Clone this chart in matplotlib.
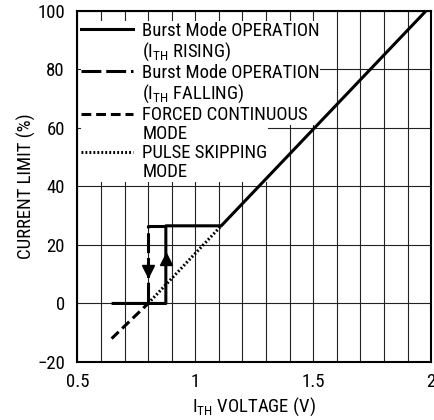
import matplotlib
matplotlib.use("Agg")
import matplotlib.pyplot as plt
from matplotlib.lines import Line2D
import numpy as np

plt.rcParams['font.family'] = ['Roboto Condensed', 'Liberation Sans', 'DejaVu Sans']
plt.rcParams['mathtext.fontset'] = 'custom'
plt.rcParams['mathtext.rm'] = 'Roboto Condensed'
plt.rcParams['mathtext.it'] = 'Roboto Condensed'
plt.rcParams['axes.unicode_minus'] = True

# Burst Mode, ITH rising
rise_v = [0.645, 0.875, 0.875, 1.11, 1.98]
rise_pct = [0, 0, 26.5, 26.5, 100]
# Burst Mode, ITH falling
fall_v = [0.875, 0.8, 0.8]
fall_pct = [26.5, 26.5, 0]
# forced continuous
fc_v = [0.645, 0.8]
fc_pct = [-12, 0]
# pulse skipping
ps_v = [0.8, 1.11]
ps_pct = [0, 26.5]
# hysteresis arrows
arrow_down = (0.8, 11.0)
arrow_up = (0.875, 15.3)

labels = ["Burst Mode OPERATION", "(I$_{\\mathrm{TH}}$ RISING)",
          "Burst Mode OPERATION", "(I$_{\\mathrm{TH}}$ FALLING)",
          "FORCED CONTINUOUS", "MODE",
          "PULSE SKIPPING", "MODE"]

fs = 13.5
fig = plt.figure(figsize=(4.35, 4.2), dpi=100)
ax = fig.add_axes([0.178, 0.138, 0.813, 0.837])

lw = 2.2
ax.plot(rise_v, rise_pct, color='black', lw=lw, solid_capstyle='butt', zorder=3)
ax.plot(fall_v, fall_pct, color='black', lw=lw, dashes=(6.5, 1.6), zorder=3)
ax.plot(fc_v, fc_pct, color='black', lw=lw, dashes=(3.2, 1.6), zorder=3)
ax.plot(ps_v, ps_pct, color='black', lw=2.2, dashes=(0.6, 0.7), zorder=3)
ax.plot(*arrow_down, marker='v', color='black', markersize=8, zorder=4)
ax.plot(*arrow_up, marker='^', color='black', markersize=8, zorder=4)

ax.set_xlim(0.5, 2)
ax.set_ylim(-20, 100)
ax.set_xticks([0.5, 1, 1.5, 2])
ax.set_xticklabels(['0.5', '1', '1.5', '2'])
ax.set_xticks(np.arange(0.6, 2.0, 0.1), minor=True)
ax.set_yticks(np.arange(-20, 101, 20))
ax.tick_params(which='both', length=0, labelsize=fs)
ax.tick_params(axis='x', pad=8)
ax.tick_params(axis='y', pad=9)
ax.grid(True, which='both', color='#222222', lw=0.8)
ax.set_axisbelow(True)
for s in ax.spines.values():
    s.set_linewidth(1.5)

ax.set_xlabel("I$_{\\mathrm{TH}}$ VOLTAGE (V)", fontsize=fs, labelpad=3)
ax.set_ylabel("CURRENT LIMIT (%)", fontsize=fs, labelpad=1)

handles = [Line2D([], [], color='black', lw=lw),
           Line2D([], [], color='none'),
           Line2D([], [], color='black', lw=lw, dashes=(6.5, 1.6)),
           Line2D([], [], color='none'),
           Line2D([], [], color='black', lw=lw, dashes=(3.2, 1.6)),
           Line2D([], [], color='none'),
           Line2D([], [], color='black', lw=2.2, dashes=(0.6, 0.7)),
           Line2D([], [], color='none')]

ls = 0.05
opts = dict(loc='upper left', borderaxespad=0, frameon=True, facecolor='white',
            edgecolor='none', framealpha=1, fancybox=False, borderpad=ls / 2,
            labelspacing=ls, handlelength=2.75, handletextpad=0.5, fontsize=fs)
leg1 = ax.legend(handles[:5], labels[:5], bbox_to_anchor=(0.01, 0.97), **opts)
leg1.set_zorder(2.5)
ax.add_artist(leg1)
fig.canvas.draw()
bb = leg1.get_window_extent().transformed(ax.transAxes.inverted())
leg2 = ax.legend(handles[5:], labels[5:], bbox_to_anchor=(bb.x0, bb.y0), **opts)
leg2.set_zorder(2.5)

fig.savefig("out.png", dpi=100)
